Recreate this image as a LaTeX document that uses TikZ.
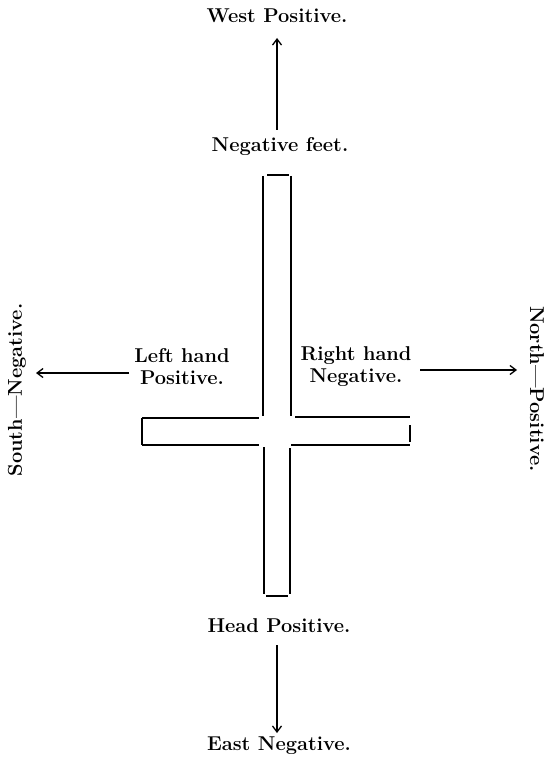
\documentclass[tikz,border=0pt]{standalone}
\usetikzlibrary{arrows.meta}
\begin{document}
\begin{tikzpicture}[x=1pt,y=-1pt,
  lbl/.style={font=\fontsize{20}{22}\selectfont\bfseries, inner sep=0pt, align=center},
  arr/.style={line width=1.3pt, -{Straight Barb[length=6pt,width=9pt]}},
  edge/.style={line width=1.3pt},
  capline/.style={line width=2.2pt}]
\useasboundingbox (0,0) rectangle (545,762);
% texts
\node[lbl] (west) at (277,16) {West Positive.};
\node[lbl] (feet) at (280,147) {Negative feet.};
\node[lbl] (left) at (182,367) {Left hand\\Positive.};
\node[lbl] (right) at (356,367) {Right hand\\Negative.};
\node[lbl] (head) at (279,626) {Head Positive.};
\node[lbl] (east) at (279,746) {East Negative.};
\node[lbl, rotate=90] (south) at (17,390) {South---Negative.};
\node[lbl, rotate=-90] (north) at (537,389) {North---Positive.};
% arrow ends
\coordinate (feetA) at (277,130);
\coordinate (westA) at (277,38);
\coordinate (headA) at (277,645);
\coordinate (eastA) at (277,733);
\coordinate (leftA) at (129,373);
\coordinate (southA) at (36,373);
\coordinate (rightA) at (420,370);
\coordinate (northA) at (517,370);
\draw[arr] (feetA) -- (westA);
\draw[arr] (headA) -- (eastA);
\draw[arr] (leftA) -- (southA);
\draw[arr] (rightA) -- (northA);
% cross
\draw[edge] (263,176) -- (263,416);
\draw[edge] (291,176) -- (291,416);
\draw[capline] (267,175) -- (289,175);
\draw[edge] (142,418) -- (259,418);
\draw[edge] (295,417) -- (410,417);
\draw[edge] (142,418) -- (142,445);
\draw[edge] (410,425) -- (410,442);
\draw[edge] (142,445) -- (259,445);
\draw[edge] (291,445) -- (410,445);
\draw[edge] (264,447) -- (264,594);
\draw[edge] (290,448) -- (290,594);
\draw[capline] (266,596) -- (288,596);
\end{tikzpicture}
\end{document}
